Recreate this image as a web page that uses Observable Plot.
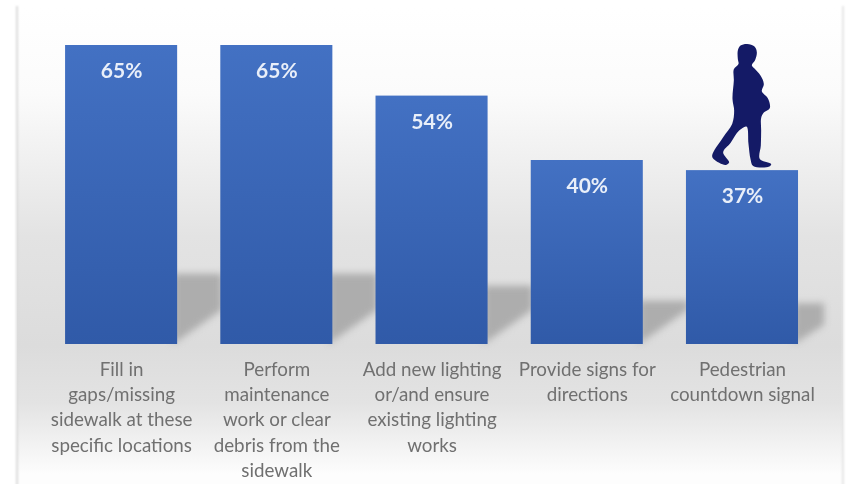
<!DOCTYPE html>
<html>
<head>
<meta charset="utf-8">
<script src="https://cdn.jsdelivr.net/npm/d3@7"></script>
<script src="https://cdn.jsdelivr.net/npm/@observablehq/plot@0.6"></script>
<style>
  html, body { margin: 0; padding: 0; background: #fff; width: 851px; height: 484px; overflow: hidden; }
  #panel {
    position: absolute; left: 17px; top: 8px; width: 826px; height: 476px;
    background: linear-gradient(to bottom, #ffffff 0%, #fbfbfb 18%, #e3e3e3 48%, #dcdcdc 71%, #e3e3e3 83%, #fdfdfd 98%);
  }
  #edge {
    position: absolute; left: 16px; top: 6px; width: 824px; height: 490px;
    border-left: 2px solid #dcdcdc; border-right: 2px solid #e6e6e6; filter: blur(1px);
  }
  #chart { position: absolute; left: 0; top: 0; filter: blur(0.5px); }
</style>
</head>
<body>
<div id="panel"></div>
<div id="edge"></div>
<div id="chart"></div>
<script>
const categories = [
  "Fill in\ngaps/missing\nsidewalk at these\nspecific locations",
  "Perform\nmaintenance\nwork or clear\ndebris from the\nsidewalk",
  "Add new lighting\nor/and ensure\nexisting lighting\nworks",
  "Provide signs for\ndirections",
  "Pedestrian\ncountdown signal"
];
const barHeights = [65, 65, 54, 40, 37.8];
const valueLabels = ["65%", "65%", "54%", "40%", "37%"];

// silhouette icon outline (icon space, not data)
const walker = [[200,40],[222,48],[229,65],[224,88],[214,104],[222,114],[240,135],[250,160],[244,182],[262,203],[268,232],[250,246],[242,262],[242,300],[241,345],[238,385],[272,400],[266,408],[218,406],[210,385],[204,340],[198,288],[176,300],[150,337],[128,365],[146,395],[135,403],[100,386],[95,375],[128,320],[155,280],[161,240],[156,205],[160,150],[160,116],[174,100],[172,85],[172,60],[180,45]];
const walkerPath = d3.line().curve(d3.curveCatmullRomClosed.alpha(0.5))(walker);
const walkerSrc = "data:image/svg+xml," + encodeURIComponent(
  `<svg xmlns="http://www.w3.org/2000/svg" viewBox="0 0 390 540" width="390" height="540"><path d="${walkerPath}" fill="#141a66"/></svg>`);

const rows = categories.map((c, i) => ({category: c, value: barHeights[i], label: valueLabels[i]}));

const defsMark = () => {
  const g = d3.create("svg:defs");
  const lg = g.append("linearGradient").attr("id", "barGrad").attr("x1", 0).attr("x2", 0).attr("y1", 0).attr("y2", 1);
  lg.append("stop").attr("offset", "0%").attr("stop-color", "#4371c3");
  lg.append("stop").attr("offset", "100%").attr("stop-color", "#305aa8");
  return g.node();
};

// perspective floor shadows cast to the right of each bar, sized from the bar's own value
const shadowMark = (index, {x, y}) => {
  const g = d3.create("svg:g").style("filter", "blur(3.5px)").attr("fill", "#adadad");
  const bw = x.bandwidth ? x.bandwidth() : 112;
  rows.forEach((r, i) => {
    const R = x(r.category) + bw;
    const gap = i < rows.length - 1 ? x(rows[i + 1].category) - R : 24;
    const top = y(r.value * 0.235);
    const base = y(0);
    const low = base - gap * 0.8;
    g.append("path").attr("d", `M${R - 4},${base}L${R + gap + 2},${low}L${R + gap + 2},${top}L${R - 4},${top}Z`);
  });
  return g.node();
};

const plot = Plot.plot({
  width: 851,
  height: 484,
  marginTop: 0, marginRight: 0, marginBottom: 140, marginLeft: 0,
  style: {background: "transparent", overflow: "visible"},
  x: {domain: categories, range: [43.5, 819.6], paddingInner: 0.278, paddingOuter: 0.139, round: false, label: null},
  y: {domain: [0, 65], range: [344, 45], axis: null},
  marks: [
    defsMark,
    shadowMark,
    Plot.barY(rows, {x: "category", y: "value", fill: "url(#barGrad)", inset: 0}),
    Plot.axisX({tickSize: 0, tickPadding: 13, fontSize: 18.8, lineHeight: 1.35, fill: "#707070", fontFamily: "Lato", label: null, anchor: "bottom"}),
    Plot.text(rows, {x: "category", y: "value", text: "label", dy: 26, fill: "#e9eff9", fontSize: 21, fontWeight: 700, fontFamily: "Lato"}),
    Plot.image(rows.filter(d => d.label === "37%"), {x: "category", y: "value", src: () => walkerSrc, width: 130, height: 180, dx: 3, dy: -50})
  ]
});
document.getElementById("chart").appendChild(plot);
</script>
</body>
</html>
